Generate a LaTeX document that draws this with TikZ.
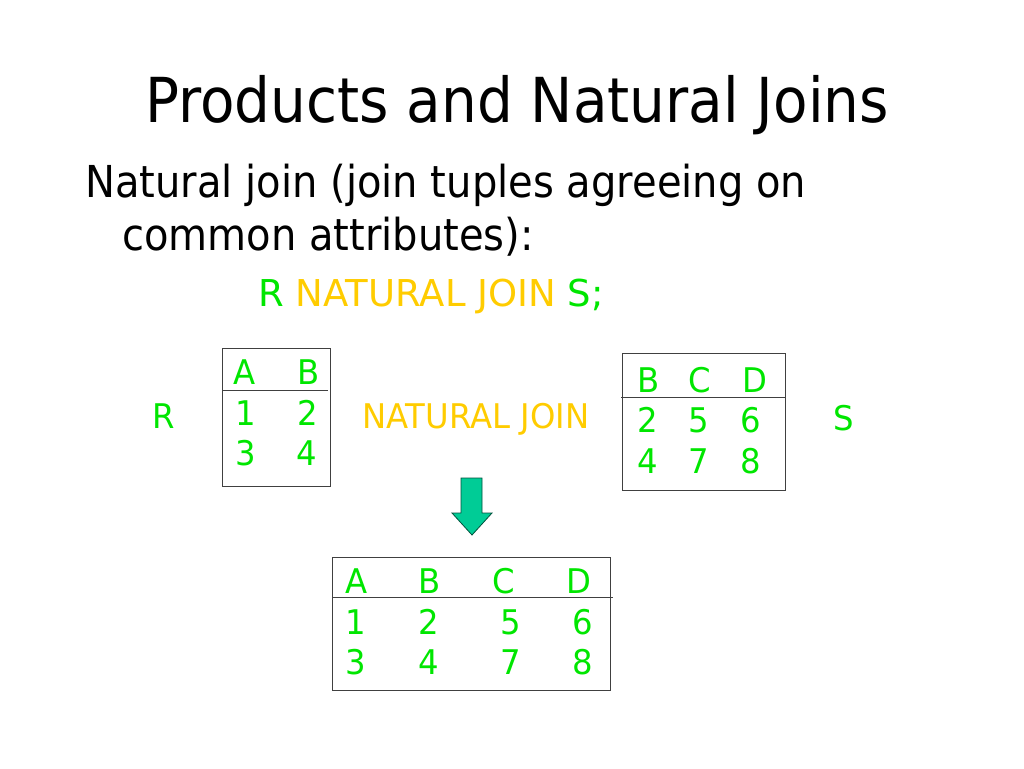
\documentclass[tikz,border=0pt]{standalone}
\usepackage{fontspec}
\newfontfamily\slidefont[FakeStretch=0.91]{DejaVu Sans}
\newfontfamily\tblfont[FakeStretch=0.95]{DejaVu Sans}
\newfontfamily\queryfont{DejaVu Sans}
\definecolor{relgreen}{RGB}{0,230,0}
\definecolor{opgold}{RGB}{255,204,0}
\definecolor{arrowfill}{RGB}{0,204,150}

\begin{document}
\begin{tikzpicture}[x=1pt,y=-1pt,
	txt/.style={anchor=base west,inner sep=0pt},
	cell/.style={txt,text=relgreen,font=\tblfont\fontsize{34}{34}\selectfont},
	relbox/.style={draw=black!75,line width=1pt}]
		\useasboundingbox[fill=white] (0,0) rectangle (1024,768);
		
		% Heading
		\node[txt,font=\slidefont\fontsize{62}{62}\selectfont] (title) at (145,122) {Products and Natural Joins};
		\node[txt,font=\slidefont\fontsize{44}{44}\selectfont] (line1) at (85,197) {Natural join (join tuples agreeing on};
		\node[txt,font=\slidefont\fontsize{44}{44}\selectfont] (line2) at (122,250) {common attributes):};
		\node[cell,font=\queryfont\fontsize{37}{37}\selectfont] (query) at (258,306) {R \textcolor{opgold}{NATURAL JOIN} S;};
		
		% Relation R
		\draw[relbox] (222,348) rectangle (330,486);
		\draw[relbox] (222,390) -- (328,390);
		\node[cell] (rname) at (152,428) {R};
		\node[cell] (ra) at (233,384) {A};
		\node[cell] (rb) at (297,384) {B};
		\node[cell] (r11) at (235,425) {1};
		\node[cell] (r12) at (297,425) {2};
		\node[cell] (r21) at (235,465) {3};
		\node[cell] (r22) at (296,465) {4};
		
		% Operator
		\node[cell,text=opgold] (op) at (362,428) {NATURAL JOIN};
		
		% Relation S
		\draw[relbox] (622,353) rectangle (785,490);
		\draw[relbox] (621,397) -- (785,397);
		\node[cell] (sname) at (833,430) {S};
		\node[cell] (sb) at (637,392) {B};
		\node[cell] (sc) at (688,392) {C};
		\node[cell] (sd) at (742,392) {D};
		\node[cell] (s11) at (637,432) {2};
		\node[cell] (s12) at (688,432) {5};
		\node[cell] (s13) at (740,432) {6};
		\node[cell] (s21) at (637,473) {4};
		\node[cell] (s22) at (688,473) {7};
		\node[cell] (s23) at (740,473) {8};
		
		% Arrow
		\draw[fill=arrowfill,draw=black!60!arrowfill,line width=0.8pt]
			(461,478) -- (482,478) -- (482,513) -- (492,513) -- (472,535)
			-- (452,513) -- (461,513) -- cycle;
		
		% Result
		\draw[relbox] (332,557) rectangle (610,690);
		\draw[relbox] (332,597) -- (613,597);
		\node[cell] (ta) at (345,593) {A};
		\node[cell] (tb) at (418,593) {B};
		\node[cell] (tc) at (492,593) {C};
		\node[cell] (td) at (566,593) {D};
		\node[cell] (t11) at (345,634) {1};
		\node[cell] (t12) at (418,634) {2};
		\node[cell] (t13) at (500,634) {5};
		\node[cell] (t14) at (572,634) {6};
		\node[cell] (t21) at (345,674) {3};
		\node[cell] (t22) at (418,674) {4};
		\node[cell] (t23) at (500,674) {7};
		\node[cell] (t24) at (572,674) {8};
		
	\end{tikzpicture}
\end{document}
